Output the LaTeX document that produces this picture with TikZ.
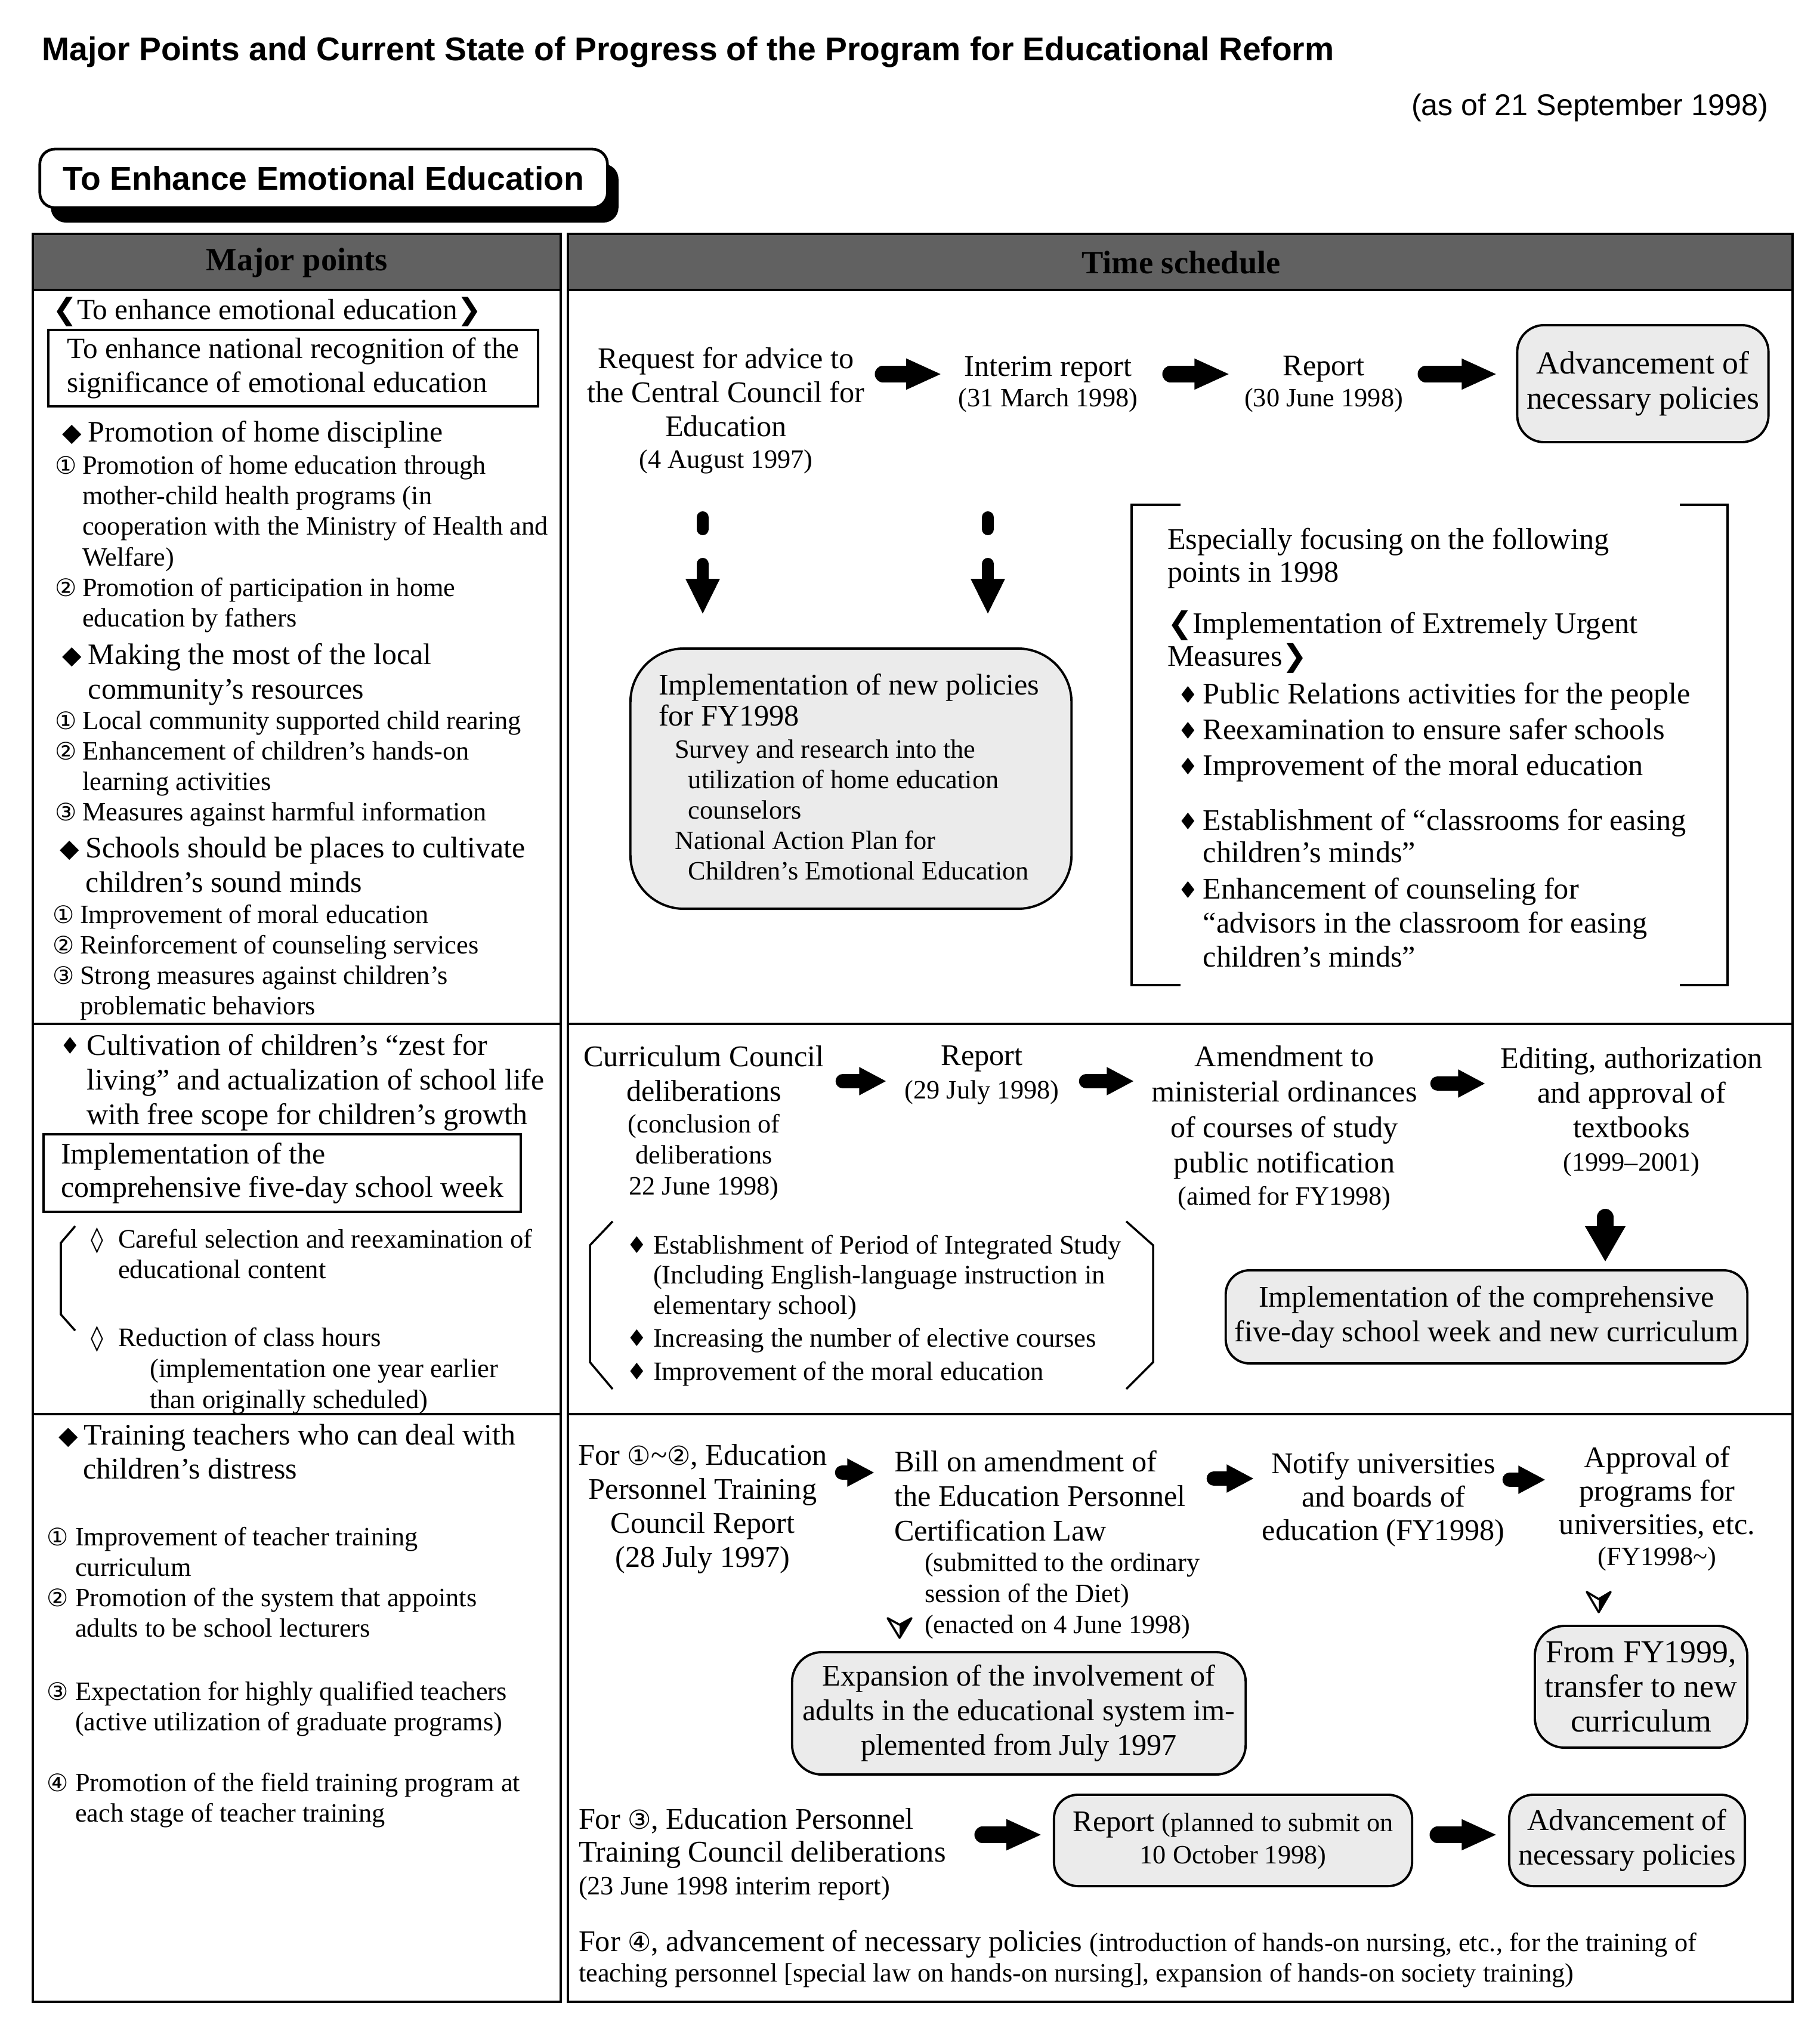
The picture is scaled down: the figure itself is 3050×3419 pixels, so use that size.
\documentclass[tikz,border=0pt]{standalone}
\usepackage{fontspec}
\setmainfont{Liberation Serif}
\newfontfamily\sansf{Liberation Sans}
\newfontfamily\symf{DejaVu Sans}
\usetikzlibrary{arrows.meta}
\newcommand{\setfs}[2]{\fontsize{#1}{#2}\selectfont}
\newcommand{\dmd}[1][12.5pt]{\makebox[#1][l]{\raisebox{0.2pt}{\symf\fontsize{12}{12}\selectfont ◆}}}
\newcommand{\sdm}[1][12.2pt]{\makebox[#1][l]{\raisebox{0.4pt}{\symf\fontsize{11}{11}\selectfont ♦}}}
\newcommand{\loz}{\makebox[13.1pt][l]{\symf\fontsize{12}{12}\selectfont ◊}}
\newcommand{\nb}[2][13.1pt]{\makebox[#1][l]{\symf\fontsize{11.5}{11.5}\selectfont #2}}
\newcommand{\ind}[1][13.1pt]{\hspace*{#1}}
\newcommand{\lqq}{{\symf ❮}}
\newcommand{\rqq}{{\symf ❯}}
\tikzset{
 tl/.style={inner sep=0pt, outer sep=0pt, align=left, anchor=north west},
 tc/.style={inner sep=0pt, outer sep=0pt, align=center, anchor=north},
 fM/.style={font=\setfs{14.3}{#1}}, fM/.default=16.2,
 fS/.style={font=\setfs{12.6}{#1}}, fS/.default=14.6,
 fL/.style={font=\setfs{14.2}{#1}}, fL/.default=16.5,
 fB/.style={font=\setfs{15.3}{#1}}, fB/.default=16.8,
 sbox/.style={draw, line width=1.1pt, fill=black!8, inner sep=0pt, align=center},
 fat/.style={line width=7.7pt, line cap=round, -{Triangle[length=17pt 0 0,width=13.5pt 0 0]}},
 fatsm/.style={line width=7pt, line cap=round, -{Triangle[length=13pt 0 0,width=12.5pt 0 0]}},
 vfat/.style={line width=5.7pt, line cap=round, -{Triangle[length=17pt 0 0,width=15pt 0 0]}},
 dfat/.style={line width=8pt, line cap=round, -{Triangle[length=17pt 0 0,width=18pt 0 0]}},
 vbar/.style={line width=5.7pt, line cap=round},
 tframe/.style={line width=1.2pt},
 brk/.style={line width=1pt},
 hdr/.style={fill=black!62},
}
\begin{document}
\begin{tikzpicture}[x=0.01cm,y=-0.01cm]
\useasboundingbox[fill=white] (0,0) rectangle (3050,3419);

% ---------- title ----------
\node[anchor=west, inner sep=0pt, font=\sansf\bfseries\setfs{15.7}{18}] (title) at (70,87)
  {Major Points and Current State of Progress of the Program for Educational Reform};
\node[anchor=east, inner sep=0pt, font=\sansf\setfs{14.3}{16}] (asof) at (2965,181)
  {(as of 21 September 1998)};

\node[fill=black, rounded corners=0.25cm, minimum width=9.51cm, minimum height=0.98cm, inner sep=0pt] (tshadow) at (561,324) {};
\node[draw, line width=1.3pt, fill=white, rounded corners=0.25cm, minimum width=9.51cm, minimum height=0.98cm,
      inner sep=0pt, font=\sansf\bfseries\setfs{15.7}{18}] (tbox) at (542.5,299) {To Enhance Emotional Education};

% ---------- table frame ----------
\fill[hdr] (55,392) rectangle (940,486);
\fill[hdr] (952,392) rectangle (3005,486);
\node[font=\bfseries\setfs{15.5}{17}, inner sep=0pt] (hmaj) at (498,440) {Major points};
\node[font=\bfseries\setfs{15.5}{17}, inner sep=0pt] (htime) at (1980,440) {Time schedule};
\draw[tframe] (55,392) rectangle (940,3355);
\draw[tframe] (952,392) rectangle (3005,3355);
\draw[tframe] (55,486) -- (940,486);
\draw[tframe] (952,486) -- (3005,486);
\draw[tframe] (55,1716) -- (940,1716);
\draw[tframe] (952,1716) -- (3005,1716);
\draw[tframe] (55,2370) -- (940,2370);
\draw[tframe] (952,2370) -- (3005,2370);

% ---------- left column, row 1 ----------
\node[tl, font=\setfs{14}{16}] (l0) at (88,498) {\lqq To enhance emotional education\rqq};
\node[draw, line width=1.1pt, inner sep=0pt, minimum width=8.21cm, minimum height=1.28cm,
      align=left, font=\setfs{14}{16.2}] (lbox1) at (491.5,617)
  {To enhance national recognition of the\\significance of emotional education};
\node[tl, fL] (b1) at (104,705) {\dmd Promotion of home discipline};
\node[tl, fS] (s1) at (92,763) {\nb{①}Promotion of home education through\\\ind mother-child health programs (in\\\ind cooperation with the Ministry of Health and\\\ind Welfare)\\\nb{②}Promotion of participation in home\\\ind education by fathers};
\node[tl, fL] (b2) at (104,1078) {\dmd Making the most of the local\\\ind[12.5pt]community’s resources};
\node[tl, fS=14.5] (s2) at (92,1192) {\nb{①}Local community supported child rearing\\\nb{②}Enhancement of children’s hands-on\\\ind learning activities\\\nb{③}Measures against harmful information};
\node[tl, fL] (b3) at (100,1403) {\dmd Schools should be places to cultivate\\\ind[12.5pt]children’s sound minds};
\node[tl, fS=14.5] (s3) at (88,1516) {\nb{①}Improvement of moral education\\\nb{②}Reinforcement of counseling services\\\nb{③}Strong measures against children’s\\\ind problematic behaviors};

% ---------- left column, row 2 ----------
\node[tl, fL] (b4) at (100,1733) {\sdm[13pt]Cultivation of children’s “zest for\\\ind[13pt]living” and actualization of school life\\\ind[13pt]with free scope for children’s growth};
\node[draw, line width=1.1pt, inner sep=0pt, minimum width=8.0cm, minimum height=1.30cm,
      align=left, font=\setfs{14.2}{16}] (lbox2) at (473,1966)
  {Implementation of the\\comprehensive five-day school week};
\draw[brk] (126,2055) -- (102,2083) -- (102,2203) -- (126,2230);
\node[tl, font=\setfs{12.7}{14.5}] (c1) at (152,2057) {\loz Careful selection and reexamination of\\\ind educational content};
\node[tl, font=\setfs{12.7}{14.9}] (c2) at (152,2222) {\loz Reduction of class hours\\\ind[28.2pt](implementation one year earlier\\\ind[28.2pt]than originally scheduled)};

% ---------- left column, row 3 ----------
\node[tl, fL=16.2] (b5) at (98,2387) {\dmd[12.2pt]Training teachers who can deal with\\\ind[11.7pt]children’s distress};
\node[tl, fS=14.5] (s5a) at (78,2559) {\nb[13.7pt]{①}Improvement of teacher training\\\ind[13.7pt]curriculum\\\nb[13.7pt]{②}Promotion of the system that appoints\\\ind[13.7pt]adults to be school lecturers};
\node[tl, fS=14.5] (s5b) at (78,2818) {\nb[13.7pt]{③}Expectation for highly qualified teachers\\\ind[13.7pt](active utilization of graduate programs)};
\node[tl, fS=14.5] (s5c) at (78,2971) {\nb[13.7pt]{④}Promotion of the field training program at\\\ind[13.7pt]each stage of teacher training};

% ---------- right column, row 1 ----------
\node[tc, fM] (req) at (1217,582) {Request for advice to\\the Central Council for\\Education};
\node[tc, fS] (reqd) at (1217,754) {(4 August 1997)};
\node[tc, fM] (int) at (1757,597) {Interim report};
\node[tc, fS] (intd) at (1757,651) {(31 March 1998)};
\node[tc, fM] (rep) at (2219,597) {Report};
\node[tc, fS] (repd) at (2219,651) {(30 June 1998)};
\node[sbox, minimum width=4.21cm, minimum height=1.96cm, rounded corners=0.45cm, fB] (adv1) at (2754,643)
  {Advancement of\\necessary policies};

\coordinate (a1s) at (1480,627); \coordinate (a1e) at (1579,627);
\coordinate (a2s) at (1962,627); \coordinate (a2e) at (2062,627);
\coordinate (a3s) at (2390,627); \coordinate (a3e) at (2510,627);
\draw[fat] (a1s) -- (a1e);
\draw[fat] (a2s) -- (a2e);
\draw[fat] (a3s) -- (a3e);

\coordinate (v1a) at (1178,867); \coordinate (v1b) at (1178,887);
\coordinate (v1c) at (1178,945); \coordinate (v1d) at (1178,1030);
\coordinate (v2a) at (1656,867); \coordinate (v2b) at (1656,887);
\coordinate (v2c) at (1656,945); \coordinate (v2d) at (1656,1030);
\draw[vbar] (v1a) -- (v1b);
\draw[vfat] (v1c) -- (v1d);
\draw[vbar] (v2a) -- (v2b);
\draw[vfat] (v2c) -- (v2d);

\node[sbox, minimum width=7.39cm, minimum height=4.36cm, rounded corners=0.9cm] (impl) at (1426.5,1305) {};
\node[tl, fM=14.8] (implt) at (1104,1129) {Implementation of new policies\\for FY1998};
\node[tl, fS=14.5] (impls) at (1131,1240) {Survey and research into the\\\ind[6.5pt]utilization of home education\\\ind[6.5pt]counselors\\National Action Plan for\\\ind[6.5pt]Children’s Emotional Education};

\draw[brk] (1979,846) -- (1897,846) -- (1897,1651) -- (1979,1651);
\draw[brk] (2816,846) -- (2896,846) -- (2896,1651) -- (2816,1651);
\node[tl, fM=15.6] (esp) at (1957,885) {Especially focusing on the following\\points in 1998};
\node[tl, fM=15.6] (urg) at (1957,1023) {\lqq Implementation of Extremely Urgent\\Measures\rqq};
\node[tl, fM] (p1) at (1974,1144) {\sdm Public Relations activities for the people};
\node[tl, fM] (p2) at (1974,1204) {\sdm Reexamination to ensure safer schools};
\node[tl, fM] (p3) at (1974,1264) {\sdm Improvement of the moral education};
\node[tl, fM=15.4] (p4) at (1974,1356) {\sdm Establishment of “classrooms for easing\\\ind[12.2pt]children’s minds”};
\node[tl, fM] (p5) at (1974,1471) {\sdm Enhancement of counseling for\\\ind[12.2pt]“advisors in the classroom for easing\\\ind[12.2pt]children’s minds”};

% ---------- right column, row 2 ----------
\node[tc, fM=16.5] (cc) at (1180,1753) {Curriculum Council\\deliberations};
\node[tc, fS=14.8] (ccd) at (1180,1867) {(conclusion of\\deliberations\\22 June 1998)};
\node[tc, fM] (rep2) at (1646,1753) {Report};
\node[tc, fS] (rep2d) at (1646,1811) {(29 July 1998)};
\node[tc, fM=16.8] (amd) at (2153,1753) {Amendment to\\ministerial ordinances\\of courses of study\\public notification};
\node[tc, fS] (amdd) at (2153,1988) {(aimed for FY1998)};
\node[tc, fM=16.5] (edit) at (2735,1756) {Editing, authorization\\and approval of\\textbooks};
\node[tc, fS] (editd) at (2735,1932) {(1999–2001)};

\coordinate (b1s) at (1413,1812); \coordinate (b1e) at (1486,1812);
\coordinate (b2s) at (1821,1812); \coordinate (b2e) at (1901,1812);
\coordinate (b3s) at (2410,1816); \coordinate (b3e) at (2490,1816);
\draw[fatsm] (b1s) -- (b1e);
\draw[fatsm] (b2s) -- (b2e);
\draw[fatsm] (b3s) -- (b3e);

\node[sbox, minimum width=8.74cm, minimum height=1.56cm, rounded corners=0.4cm, fM=16.5] (impl2) at (2492,2207)
  {Implementation of the comprehensive\\five-day school week and new curriculum};
\coordinate (d1s) at (2691,2040);
\coordinate (d1e) at (2691,2115);
\draw[dfat] (d1s) -- (d1e);

\draw[brk] (1027,2047) -- (989,2087) -- (989,2283) -- (1027,2328);
\draw[brk] (1888,2047) -- (1933,2087) -- (1933,2283) -- (1888,2328);
\node[tl, font=\setfs{12.7}{14.3}] (q1) at (1050,2070) {\sdm[12.8pt]Establishment of Period of Integrated Study\\\ind[12.8pt](Including English-language instruction in\\\ind[12.8pt]elementary school)};
\node[tl, font=\setfs{12.7}{14.3}] (q2) at (1050,2226) {\sdm[12.8pt]Increasing the number of elective courses};
\node[tl, font=\setfs{12.7}{14.3}] (q3) at (1050,2282) {\sdm[12.8pt]Improvement of the moral education};

% ---------- right column, row 3 ----------
\node[tc, fM=16.2] (ep) at (1178,2421) {For {\symf\fontsize{12.5}{12.5}\selectfont ①}\textasciitilde{\symf\fontsize{12.5}{12.5}\selectfont ②}, Education\\Personnel Training\\Council Report\\(28 July 1997)};
\node[tl, fM=16.5] (bill) at (1499,2431) {Bill on amendment of\\the Education Personnel\\Certification Law};
\node[tl, fS=14.8] (billd) at (1550,2603) {(submitted to the ordinary\\session of the Diet)\\(enacted on 4 June 1998)};
\node[tc, fM=16] (notify) at (2319,2434) {Notify universities\\and boards of\\education (FY1998)};
\node[tc, fM=16] (appr) at (2778,2424) {Approval of\\programs for\\universities, etc.};
\node[tc, fS] (apprd) at (2778,2593) {(FY1998\textasciitilde)};

\coordinate (c1s) at (1412,2468); \coordinate (c1e) at (1466,2468);
\coordinate (c2s) at (2035,2478); \coordinate (c2e) at (2102,2478);
\coordinate (c3s) at (2531,2480); \coordinate (c3e) at (2591,2480);
\draw[fatsm] (c1s) -- (c1e);
\draw[fatsm] (c2s) -- (c2e);
\draw[fatsm] (c3s) -- (c3e);

% small open/half-filled arrowheads
\draw[line width=1pt, line join=round] (1488,2712) -- (1508,2745) -- (1528,2712) -- (1508,2723) -- cycle;
\fill (1508,2723) -- (1528,2712) -- (1508,2745) -- cycle;
\draw[line width=1pt, line join=round] (2660,2668) -- (2680,2702) -- (2700,2668) -- (2680,2680) -- cycle;
\fill (2680,2680) -- (2700,2668) -- (2680,2702) -- cycle;

\node[sbox, minimum width=7.60cm, minimum height=2.05cm, rounded corners=0.5cm, fM=16.5] (exp) at (1708,2871.5)
  {Expansion of the involvement of\\adults in the educational system im-\\plemented from July 1997};
\node[sbox, minimum width=3.56cm, minimum height=2.04cm, rounded corners=0.5cm, fB=16.5] (from) at (2751,2827)
  {From FY1999,\\transfer to new\\curriculum};

\node[tl, fM=15.4] (for3) at (970,3031) {For {\symf\fontsize{12.5}{12.5}\selectfont ③}, Education Personnel\\Training Council deliberations};
\node[tl, fS] (for3d) at (970,3145) {(23 June 1998 interim report)};
\node[sbox, minimum width=6.0cm, minimum height=1.53cm, rounded corners=0.4cm, fM=15.2] (rep3) at (2067,3084.5)
  {Report {\setfs{12.6}{15.2}(planned to submit on}\\{\setfs{12.6}{15.2}10 October 1998)}};
\node[sbox, minimum width=3.95cm, minimum height=1.53cm, rounded corners=0.4cm, font=\setfs{14.3}{16.5}] (adv2) at (2727.5,3084.5)
  {Advancement of\\necessary policies};
\coordinate (e1s) at (1647,3075); \coordinate (e1e) at (1747,3075);
\coordinate (e2s) at (2410,3075); \coordinate (e2e) at (2510,3075);
\draw[fat] (e1s) -- (e1e);
\draw[fat] (e2s) -- (e2e);

\node[tl, fM=14.5] (for4) at (970,3235) {For {\symf\fontsize{12.5}{12.5}\selectfont ④}, advancement of necessary policies {\setfs{12.6}{14.5}(introduction of hands-on nursing, etc., for the training of}\\{\setfs{12.6}{14.5}teaching personnel [special law on hands-on nursing], expansion of hands-on society training)}};
\end{tikzpicture}
\end{document}
